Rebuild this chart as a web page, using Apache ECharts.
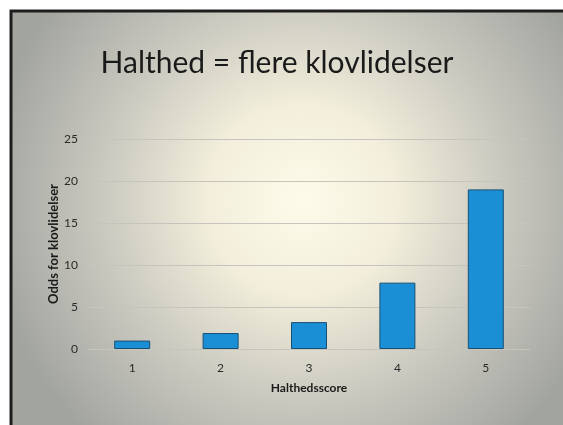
<!DOCTYPE html>
<html>
<head>
<meta charset="utf-8">
<script src="https://cdn.jsdelivr.net/npm/echarts@6/dist/echarts.min.js"></script>
<style>
  html, body { margin: 0; padding: 0; background: #fff; }
  #chart { width: 563px; height: 425px; }
</style>
</head>
<body>
<div id="chart"></div>
<script>
// data
var categories = ['1', '2', '3', '4', '5']
var odds = [1.0, 1.9, 3.2, 7.9, 19.0]
var yTicks = [0, 5, 10, 15, 20, 25]

var chart = echarts.init(document.getElementById('chart'))

chart.setOption({
  backgroundColor: '#ffffff',
  animation: false,
  graphic: [{
    type: 'rect',
    z: -10,
    silent: true,
    shape: { x: 11, y: 11, width: 560, height: 420 },
    style: {
      fill: {
        type: 'radial', x: 0.52, y: 0.45, r: 0.75,
        colorStops: [
          { offset: 0, color: '#fdfbea' },
          { offset: 0.3, color: '#f2eedb' },
          { offset: 0.65, color: '#c8c7be' },
          { offset: 1, color: '#a2a4a0' }
        ]
      },
      stroke: '#1e1e1e',
      lineWidth: 3
    }
  }],
  title: {
    text: 'Halthed = flere klovlidelser',
    left: 272,
    top: 43,
    textAlign: 'center',
    textStyle: {
      fontFamily: 'Lato',
      fontWeight: 'normal',
      fontSize: 30,
      color: '#1a1a1a'
    }
  },
  grid: {
    left: 88,
    right: 33,
    top: 139,
    bottom: 76
  },
  xAxis: {
    type: 'category',
    data: categories,
    name: 'Halthedsscore',
    nameLocation: 'middle',
    nameGap: 33,
    nameMoveOverlap: false,
    nameTextStyle: { fontFamily: 'Lato', fontWeight: 'bold', fontSize: 12, color: '#1a1a1a' },
    axisLine: { show: false },
    axisTick: { show: false },
    axisLabel: { fontFamily: 'Lato', fontSize: 12, color: '#2a2a2a', margin: 13 }
  },
  yAxis: {
    type: 'value',
    min: yTicks[0],
    max: yTicks[yTicks.length - 1],
    interval: 5,
    name: 'Odds for klovlidelser',
    nameLocation: 'middle',
    nameGap: 28,
    nameMoveOverlap: false,
    nameTextStyle: { fontFamily: 'Lato', fontWeight: 'bold', fontSize: 13, color: '#1a1a1a' },
    axisLine: { show: false },
    axisTick: { show: false },
    axisLabel: { fontFamily: 'Lato', fontSize: 12, color: '#2a2a2a', margin: 10 },
    splitLine: { lineStyle: { color: '#c6c5bd', width: 1 } }
  },
  series: [{
    type: 'bar',
    data: odds,
    barWidth: 36,
    itemStyle: {
      color: '#1b8fd6',
      borderColor: '#1b4f72',
      borderWidth: 1
    }
  }]
})
</script>
</body>
</html>
